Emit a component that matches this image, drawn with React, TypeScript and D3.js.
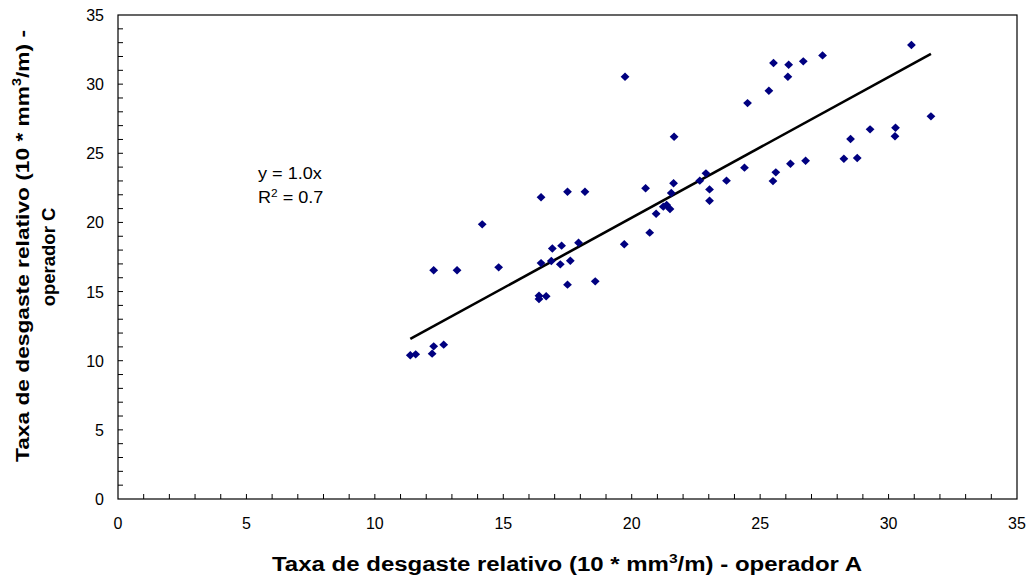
// React
import { useEffect, useRef } from 'react';

// Installed Packages
import * as d3 from 'd3';

// Data: wear rate, operator A (x) vs operator C (y)
const operatorA = [
    16.47, 17.50, 18.18, 14.18, 16.91, 17.27, 17.93, 19.71, 12.29, 13.20,
    14.82, 16.47, 16.87, 17.22, 17.61, 17.50, 18.58, 16.39, 16.39, 16.67,
    11.38, 11.59, 12.29, 12.68, 12.23, 19.74, 25.52, 26.11, 26.68, 27.43,
    26.08, 25.34, 24.51, 21.65, 24.39, 25.61, 25.50, 26.18, 26.77, 20.54,
    21.63, 21.54, 22.89, 22.65, 23.03, 23.69, 23.03, 20.95, 21.23, 21.36,
    21.49, 20.70, 28.26, 28.78, 28.52, 29.28, 30.27, 30.25, 31.65, 30.89
];
const operatorC = [
    21.82, 22.22, 22.22, 19.86, 18.12, 18.32, 18.53, 18.42, 16.54, 16.54,
    16.75, 17.06, 17.21, 16.97, 17.23, 15.50, 15.74, 14.70, 14.46, 14.66,
    10.39, 10.46, 11.04, 11.16, 10.51, 30.54, 31.53, 31.40, 31.65, 32.08,
    30.54, 29.52, 28.63, 26.20, 23.96, 23.62, 22.99, 24.24, 24.46, 22.47,
    22.83, 22.13, 23.55, 23.02, 22.39, 23.02, 21.57, 20.63, 21.14, 21.26,
    20.97, 19.26, 24.61, 24.66, 26.03, 26.73, 26.85, 26.23, 27.67, 32.83
];
const xTicks = [0, 5, 10, 15, 20, 25, 30, 35];
const yTicks = [0, 5, 10, 15, 20, 25, 30, 35];
const trendSlope = 1.017;
const equationLabel = 'y = 1.0x';
const r2Value = '0.7';

const FONT = 'Liberation Sans, Arial, sans-serif';

export default function App() {
    let ref = useRef<SVGSVGElement>(null);

    useEffect(() => {
        const svg = d3.select(ref.current);
        svg.selectAll('*').remove();

        const margin = { top: 15, right: 16, bottom: 82, left: 118 };
        const W = 1033, H = 581;
        const width = W - margin.left - margin.right;
        const height = H - margin.top - margin.bottom;

        const x = d3.scaleLinear().domain([0, 35]).range([0, width]);
        const y = d3.scaleLinear().domain([0, 35]).range([height, 0]);

        const g = svg.append('g').attr('transform', `translate(${margin.left}, ${margin.top})`);

        // frame
        g.append('rect').attr('x', 0).attr('y', 0).attr('width', width).attr('height', height)
            .attr('fill', 'none').attr('stroke', '#000').attr('stroke-width', 1.2);

        // minor ticks, every unit, pointing inwards
        const minor = d3.range(1, 35);
        g.selectAll('line.xt').data(minor).join('line')
            .attr('x1', d => x(d)).attr('x2', d => x(d))
            .attr('y1', height).attr('y2', height - 5)
            .attr('stroke', '#000').attr('stroke-width', 1);
        g.selectAll('line.yt').data(minor).join('line')
            .attr('x1', 0).attr('x2', 5)
            .attr('y1', d => y(d)).attr('y2', d => y(d))
            .attr('stroke', '#000').attr('stroke-width', 1);

        // tick labels
        g.selectAll('text.xl').data(xTicks).join('text')
            .attr('x', d => x(d)).attr('y', height + 30)
            .attr('text-anchor', 'middle')
            .style('font-family', FONT).style('font-size', '16px')
            .text(d => d);
        g.selectAll('text.yl').data(yTicks).join('text')
            .attr('x', -14).attr('y', d => y(d) + 6)
            .attr('text-anchor', 'end')
            .style('font-family', FONT).style('font-size', '16px')
            .text(d => d);

        // x axis title (slightly wider than natural, like the source)
        const xt = svg.append('text')
            .attr('x', 272).attr('y', 571)
            .attr('textLength', 590).attr('lengthAdjust', 'spacingAndGlyphs')
            .style('font-family', FONT).style('font-size', '20px').style('font-weight', 'bold');
        xt.append('tspan').text('Taxa de desgaste relativo (10 * mm');
        xt.append('tspan').attr('dy', -8).style('font-size', '13px').text('3');
        xt.append('tspan').attr('dy', 8).text('/m) - operador A');

        // y axis title (two lines)
        const yt = svg.append('g').attr('transform', 'translate(29, 0) rotate(-90)');
        const l1 = yt.append('text').attr('x', -462).attr('y', 0)
            .attr('textLength', 432).attr('lengthAdjust', 'spacingAndGlyphs')
            .style('font-family', FONT).style('font-size', '19px').style('font-weight', 'bold');
        l1.append('tspan').text('Taxa de desgaste relativo (10 * mm');
        l1.append('tspan').attr('dy', -8).style('font-size', '12px').text('3');
        l1.append('tspan').attr('dy', 8).text('/m) -');
        yt.append('text').attr('x', -257).attr('y', 26).attr('text-anchor', 'middle')
            .style('font-family', FONT).style('font-size', '18.5px').style('font-weight', 'bold')
            .text('operador C');

        // trend line through origin
        const xMin = d3.min(operatorA)!, xMax = d3.max(operatorA)!;
        g.append('line')
            .attr('x1', x(xMin)).attr('y1', y(xMin * trendSlope))
            .attr('x2', x(xMax)).attr('y2', y(xMax * trendSlope))
            .attr('stroke', '#000').attr('stroke-width', 2.6);

        // points: small navy diamonds
        const pts = operatorA.map((a, i) => ({ a, c: operatorC[i] }));
        const diamond = 'M0,-4.2L4.4,0L0,4.2L-4.4,0Z';
        g.selectAll('path.pt').data(pts).join('path')
            .attr('transform', d => `translate(${x(d.a)}, ${y(d.c)})`)
            .attr('d', diamond)
            .attr('fill', '#000080');

        // equation annotation
        const ann = g.append('g').attr('transform', 'translate(140, 0) scale(1.13, 1)');
        ann.append('text').attr('x', 0).attr('y', 164)
            .style('font-family', FONT).style('font-size', '16px')
            .text(equationLabel);
        const r = ann.append('text').attr('x', 0).attr('y', 188)
            .style('font-family', FONT).style('font-size', '16px');
        r.append('tspan').text('R');
        r.append('tspan').attr('dy', -6).style('font-size', '10.5px').text('2');
        r.append('tspan').attr('dy', 6).text(` = ${r2Value}`);
    }, []);

    return <svg ref={ref} width={1033} height={581} style={{ display: 'block', position: 'absolute', left: 0, top: 0 }}></svg>
}
